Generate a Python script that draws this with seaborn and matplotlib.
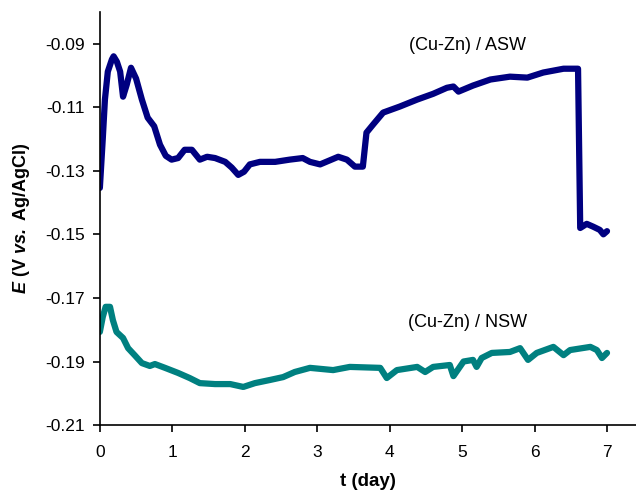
import matplotlib
matplotlib.use("Agg")
import matplotlib.pyplot as plt
import seaborn as sns
import pandas as pd

# Open-circuit potential of the Cu-Zn alloy in artificial (ASW) and natural (NSW) seawater
t_asw = [0.0, 0.04, 0.07, 0.11, 0.166, 0.19, 0.235, 0.28, 0.32, 0.37, 0.43, 0.5, 0.58,
         0.66, 0.75, 0.83, 0.91, 0.99, 1.08, 1.17, 1.27, 1.38, 1.48, 1.59, 1.73, 1.82,
         1.91, 1.99, 2.07, 2.21, 2.42, 2.62, 2.80, 2.9, 3.04, 3.29, 3.41, 3.52, 3.63,
         3.68, 3.77, 3.91, 4.14, 4.38, 4.6, 4.79, 4.88, 4.95, 5.15, 5.39, 5.66, 5.9,
         6.12, 6.4, 6.6, 6.63, 6.72, 6.81, 6.9, 6.95, 7.0]
e_asw = [-0.1354, -0.120, -0.1076, -0.0988, -0.095, -0.094, -0.0957, -0.0988, -0.1067,
         -0.103, -0.0976, -0.101, -0.1076, -0.1133, -0.116, -0.1218, -0.1253, -0.1265,
         -0.126, -0.1234, -0.1234, -0.1265, -0.1256, -0.126, -0.1272, -0.129, -0.1313,
         -0.1303, -0.128, -0.1272, -0.1272, -0.1265, -0.126, -0.1272, -0.128, -0.1256,
         -0.1265, -0.1287, -0.1287, -0.118, -0.1155, -0.1117, -0.1098, -0.1076, -0.1058,
         -0.1039, -0.1035, -0.1051, -0.1032, -0.1013, -0.1004, -0.1007, -0.0991, -0.0979,
         -0.0979, -0.148, -0.1467, -0.1476, -0.1486, -0.150, -0.149]

t_nsw = [0.0, 0.04, 0.08, 0.14, 0.18, 0.23, 0.32, 0.39, 0.48, 0.58, 0.69, 0.76, 0.9,
         1.08, 1.24, 1.38, 1.59, 1.8, 1.98, 2.14, 2.35, 2.53, 2.69, 2.9, 3.22, 3.45,
         3.87, 3.96, 4.1, 4.38, 4.49, 4.6, 4.83, 4.88, 5.02, 5.15, 5.2, 5.27, 5.41,
         5.66, 5.8, 5.91, 6.03, 6.26, 6.4, 6.49, 6.77, 6.86, 6.93, 7.0]
e_nsw = [-0.1807, -0.176, -0.1728, -0.1728, -0.177, -0.1807, -0.1826, -0.1858, -0.188,
         -0.1905, -0.1914, -0.1908, -0.192, -0.1936, -0.1952, -0.1968, -0.1971, -0.1971,
         -0.198, -0.1968, -0.1958, -0.1949, -0.1933, -0.192, -0.1927, -0.1917, -0.192,
         -0.1952, -0.1927, -0.1917, -0.1933, -0.1917, -0.1911, -0.1946, -0.19, -0.1895,
         -0.1917, -0.1889, -0.1873, -0.187, -0.1858, -0.1895, -0.1873, -0.1854, -0.188,
         -0.1864, -0.1854, -0.1864, -0.1889, -0.1873]

x_ticks = [0, 1, 2, 3, 4, 5, 6, 7]
y_ticks = [-0.21, -0.19, -0.17, -0.15, -0.13, -0.11, -0.09]
y_tick_labels = ["-0.21", "-0.19", "-0.17", "-0.15", "-0.13", "-0.11", "-0.09"]

sns.set_style("ticks")
plt.rcParams["font.family"] = ["Liberation Sans", "DejaVu Sans"]
plt.rcParams["text.color"] = "black"
plt.rcParams["axes.labelcolor"] = "black"
plt.rcParams["mathtext.fontset"] = "custom"
plt.rcParams["mathtext.rm"] = "Liberation Sans"
plt.rcParams["mathtext.it"] = "Liberation Sans:italic"
plt.rcParams["mathtext.bf"] = "Liberation Sans:bold"
plt.rcParams["mathtext.bfit"] = "Liberation Sans:bold:italic"

fig = plt.figure(figsize=(6.36, 4.92), dpi=100)
ax = fig.add_axes([0.157, 0.136, 0.843, 0.840])

df_asw = pd.DataFrame({"t": t_asw, "E": e_asw})
df_nsw = pd.DataFrame({"t": t_nsw, "E": e_nsw})
sns.lineplot(data=df_asw, x="t", y="E", ax=ax, color="#000080", lw=4.5,
             sort=False, estimator=None, solid_capstyle="round", solid_joinstyle="round")
sns.lineplot(data=df_nsw, x="t", y="E", ax=ax, color="#008080", lw=4.5,
             sort=False, estimator=None, solid_capstyle="round", solid_joinstyle="round")

ax.set_xlim(0, 7.4)
ax.set_ylim(-0.21, -0.08)
ax.set_xticks(x_ticks)
ax.set_xticklabels([str(v) for v in x_ticks])
ax.set_yticks(y_ticks)
ax.set_yticklabels(y_tick_labels)
ax.tick_params(axis="both", labelsize=12.5, length=5, width=1.2, direction="out",
               colors="black")
ax.tick_params(axis="x", pad=9)
ax.tick_params(axis="y", pad=6)
for s in ("top", "right"):
    ax.spines[s].set_visible(False)
for s in ("left", "bottom"):
    ax.spines[s].set_linewidth(1.2)
    ax.spines[s].set_color("black")

ax.set_xlabel("t (day)", fontsize=13.5, fontweight="bold", labelpad=10)
ax.set_ylabel(r"$\mathbfit{E}$ (V $\mathbfit{vs.}$ Ag/AgCl)", fontsize=13,
              fontweight="bold", labelpad=9)

ax.text(5.07, -0.0906, "(Cu-Zn) / ASW", fontsize=13, ha="center", va="center")
ax.text(5.07, -0.1778, "(Cu-Zn) / NSW", fontsize=13, ha="center", va="center")

fig.savefig("out.png", dpi=100)
